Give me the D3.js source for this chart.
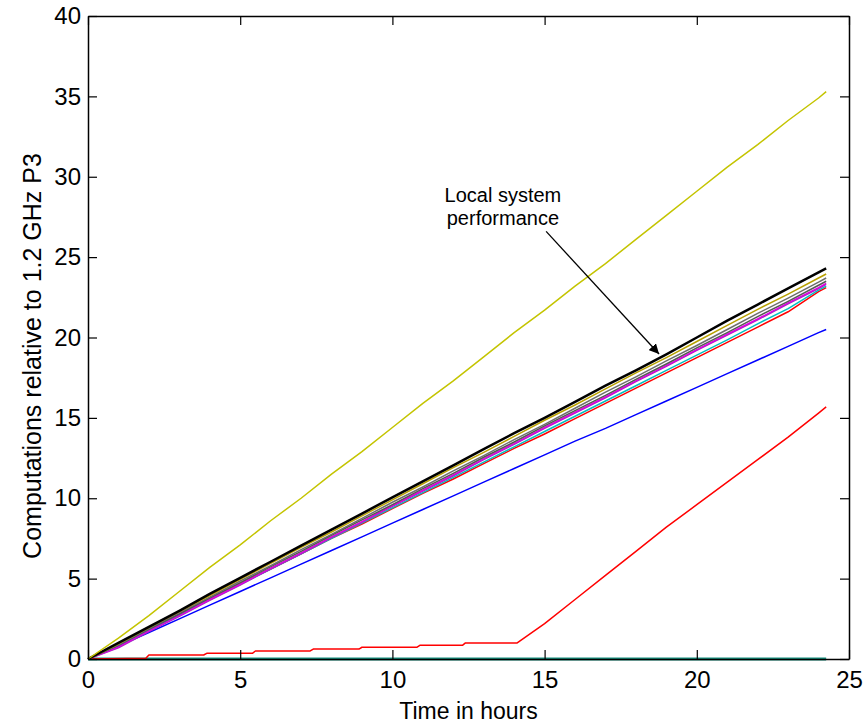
<!DOCTYPE html>
<html>
<head>
<meta charset="utf-8">
<script src="https://cdn.jsdelivr.net/npm/d3@7"></script>
<style>
  body { margin: 0; background: #fff; }
  text { font-family: "Liberation Sans", Arial, sans-serif; fill: #000; }
</style>
</head>
<body>
<div id="chart"></div>
<script>
// sample times (hours) shared by every run
var hours = [0, 1, 2, 3, 4, 5, 6, 7, 8, 9, 10, 11, 12, 13, 14, 15, 16, 17, 18, 19, 20, 21, 22, 23, 24, 24.25];

// cumulative computations for each machine, relative to a 1.2 GHz P3
var yellowRun = [0, 1.3, 2.7, 4.2, 5.7, 7.1, 8.6, 10.0, 11.5, 12.9, 14.4, 15.9, 17.3, 18.8, 20.3, 21.7, 23.2, 24.6, 26.1, 27.6, 29.1, 30.6, 32.0, 33.5, 34.9, 35.3];
var blackRun  = [0, 1.0, 2.0, 3.0, 4.05, 5.05, 6.05, 7.05, 8.05, 9.05, 10.05, 11.05, 12.05, 13.05, 14.05, 15.0, 16.0, 17.0, 17.95, 18.95, 20.0, 21.05, 22.05, 23.05, 24.05, 24.3];
var goldRun   = [0, 0.95, 1.95, 2.95, 3.95, 4.95, 5.95, 6.95, 7.9, 8.9, 9.9, 10.9, 11.9, 12.85, 13.85, 14.85, 15.8, 16.8, 17.8, 18.75, 19.75, 20.75, 21.75, 22.7, 23.7, 23.95];
var grayRunA  = [0, 0.9, 1.9, 2.9, 3.85, 4.85, 5.8, 6.8, 7.75, 8.75, 9.75, 10.7, 11.7, 12.65, 13.65, 14.6, 15.6, 16.6, 17.55, 18.55, 19.5, 20.5, 21.5, 22.45, 23.45, 23.7];
var grayRunB  = [0, 0.85, 1.85, 2.8, 3.8, 4.75, 5.75, 6.7, 7.7, 8.65, 9.6, 10.6, 11.55, 12.55, 13.5, 14.5, 15.45, 16.4, 17.4, 18.35, 19.35, 20.3, 21.3, 22.25, 23.25, 23.5];
var magentaRun = [0, 0.75, 1.75, 2.7, 3.7, 4.65, 5.65, 6.6, 7.6, 8.55, 9.55, 10.5, 11.45, 12.45, 13.4, 14.4, 15.35, 16.3, 17.3, 18.25, 19.25, 20.2, 21.15, 22.15, 23.1, 23.37];
var purpleRun = [0, 0.7, 1.7, 2.65, 3.65, 4.6, 5.6, 6.55, 7.55, 8.5, 9.5, 10.45, 11.4, 12.4, 13.35, 14.35, 15.3, 16.25, 17.25, 18.2, 19.2, 20.15, 21.1, 22.1, 23.05, 23.3];
var cyanRun   = [0, 0.85, 1.8, 2.75, 3.7, 4.65, 5.6, 6.55, 7.5, 8.45, 9.4, 10.35, 11.3, 12.25, 13.2, 14.15, 15.1, 16.05, 17.0, 17.95, 18.9, 19.85, 20.85, 21.8, 22.95, 23.2];
var redRun    = [0, 0.95, 1.9, 2.8, 3.75, 4.7, 5.6, 6.55, 7.5, 8.4, 9.35, 10.3, 11.2, 12.15, 13.1, 14.0, 14.95, 15.9, 16.85, 17.8, 18.75, 19.7, 20.65, 21.6, 22.85, 23.1];
var blueRun   = [0, 0.8, 1.65, 2.5, 3.35, 4.2, 5.05, 5.9, 6.75, 7.6, 8.45, 9.3, 10.15, 11.0, 11.85, 12.7, 13.55, 14.35, 15.2, 16.05, 16.9, 17.75, 18.6, 19.45, 20.3, 20.5];
var idleRun   = [0, 0, 0, 0, 0, 0, 0, 0, 0, 0, 0, 0, 0, 0, 0, 0, 0, 0, 0, 0, 0, 0, 0, 0, 0, 0];

// the late starter: trickles along, then ramps up after hour 14
var lateHours = [0, 1.9, 2.0, 3.8, 3.9, 5.4, 5.5, 7.3, 7.4, 8.9, 9.0, 10.8, 10.9, 12.3, 12.4, 14.1, 15, 16, 17, 18, 19, 20, 21, 22, 23, 24, 24.25];
var lateRun   = [0, 0.05, 0.25, 0.25, 0.35, 0.35, 0.5, 0.5, 0.62, 0.62, 0.73, 0.73, 0.85, 0.85, 1.0, 1.0, 2.2, 3.7, 5.2, 6.7, 8.2, 9.6, 11.0, 12.4, 13.8, 15.3, 15.68];

var series = [
  {name: "idle",    x: hours, y: idleRun,    color: "#16907f", width: 3},
  {name: "late",    x: lateHours, y: lateRun, color: "#ff0000", width: 1.5},
  {name: "blue",    x: hours, y: blueRun,    color: "#0000ff", width: 1.5},
  {name: "red",     x: hours, y: redRun,     color: "#ff0000", width: 1.5},
  {name: "cyan",    x: hours, y: cyanRun,    color: "#00c0c0", width: 1.5},
  {name: "purple",  x: hours, y: purpleRun,  color: "#a030c0", width: 1.5},
  {name: "magenta", x: hours, y: magentaRun, color: "#e000e0", width: 1.5},
  {name: "grayB",   x: hours, y: grayRunB,   color: "#555555", width: 1.5},
  {name: "grayA",   x: hours, y: grayRunA,   color: "#6e6e6e", width: 1.5},
  {name: "gold",    x: hours, y: goldRun,    color: "#b8a000", width: 1.5},
  {name: "black",   x: hours, y: blackRun,   color: "#000000", width: 2.5},
  {name: "yellow",  x: hours, y: yellowRun,  color: "#c4c400", width: 1.5}
];

var xTicks = [0, 5, 10, 15, 20, 25];
var yTicks = [0, 5, 10, 15, 20, 25, 30, 35, 40];

var margin = {top: 16, right: 17, bottom: 68, left: 88},
    width = 866 - margin.left - margin.right,
    height = 727 - margin.top - margin.bottom;

var svg = d3.select("#chart")
  .append("svg")
    .attr("width", 866)
    .attr("height", 727)
  .append("g")
    .attr("transform", "translate(" + margin.left + "," + margin.top + ")");

var x = d3.scaleLinear().domain([0, 25]).range([0, width]);
var y = d3.scaleLinear().domain([0, 40]).range([height, 0]);

// lines
var line = d3.line()
  .x(function(d) { return x(d[0]); })
  .y(function(d) { return y(d[1]); });

svg.selectAll(".run")
  .data(series)
  .enter().append("path")
    .attr("class", "run")
    .attr("fill", "none")
    .attr("stroke", function(d) { return d.color; })
    .attr("stroke-width", function(d) { return d.width; })
    .attr("stroke-linejoin", "round")
    .attr("d", function(d) { return line(d3.zip(d.x, d.y)); });

// axes: ticks point inward on all four sides
function styleAxis(g) {
  g.select(".domain").attr("stroke-width", 1.5);
  g.selectAll(".tick line").attr("stroke-width", 1.2);
  g.selectAll("text").style("font-size", "24px").style("font-family", "'Liberation Sans', Arial, sans-serif");
}

svg.append("g")
  .attr("transform", "translate(0," + height + ")")
  .call(d3.axisBottom(x).tickValues(xTicks).tickSizeInner(-9).tickSizeOuter(0).tickPadding(12))
  .call(styleAxis);

svg.append("g")
  .call(d3.axisLeft(y).tickValues(yTicks).tickSizeInner(-9).tickSizeOuter(0).tickPadding(7))
  .call(styleAxis);

svg.append("g")
  .call(d3.axisTop(x).tickValues(xTicks).tickSizeInner(-9).tickSizeOuter(0).tickFormat(""))
  .call(styleAxis);

svg.append("g")
  .attr("transform", "translate(" + width + ",0)")
  .call(d3.axisRight(y).tickValues(yTicks).tickSizeInner(-9).tickSizeOuter(0).tickFormat(""))
  .call(styleAxis);

// axis titles
svg.append("text")
  .attr("x", width / 2)
  .attr("y", height + 60)
  .attr("text-anchor", "middle")
  .style("font-size", "23px")
  .text("Time in hours");

svg.append("text")
  .attr("transform", "rotate(-90)")
  .attr("x", -340)
  .attr("y", -47)
  .attr("text-anchor", "middle")
  .style("font-size", "25px")
  .text("Computations relative to 1.2 GHz P3");

// annotation pointing at the local machine's curve
var note = {x: 13.63, y: 28.4, tipX: 18.76, tipY: 18.97, fromX: 15.05, fromY: 26.6};

svg.append("defs").append("marker")
    .attr("id", "arrow")
    .attr("viewBox", "0 0 10 10")
    .attr("refX", 10)
    .attr("refY", 5)
    .attr("markerWidth", 10)
    .attr("markerHeight", 10)
    .attr("markerUnits", "userSpaceOnUse")
    .attr("orient", "auto")
  .append("path")
    .attr("d", "M0,0L10,5L0,10z")
    .attr("fill", "#000");

svg.append("line")
  .attr("x1", x(note.fromX))
  .attr("y1", y(note.fromY))
  .attr("x2", x(note.tipX))
  .attr("y2", y(note.tipY))
  .attr("stroke", "#000")
  .attr("stroke-width", 1.3)
  .attr("marker-end", "url(#arrow)");

var label = svg.append("text")
  .attr("text-anchor", "middle")
  .style("font-size", "20px");
label.append("tspan").attr("x", x(note.x)).attr("y", y(note.y)).text("Local system");
label.append("tspan").attr("x", x(note.x)).attr("dy", 23).text("performance");
</script>
</body>
</html>
